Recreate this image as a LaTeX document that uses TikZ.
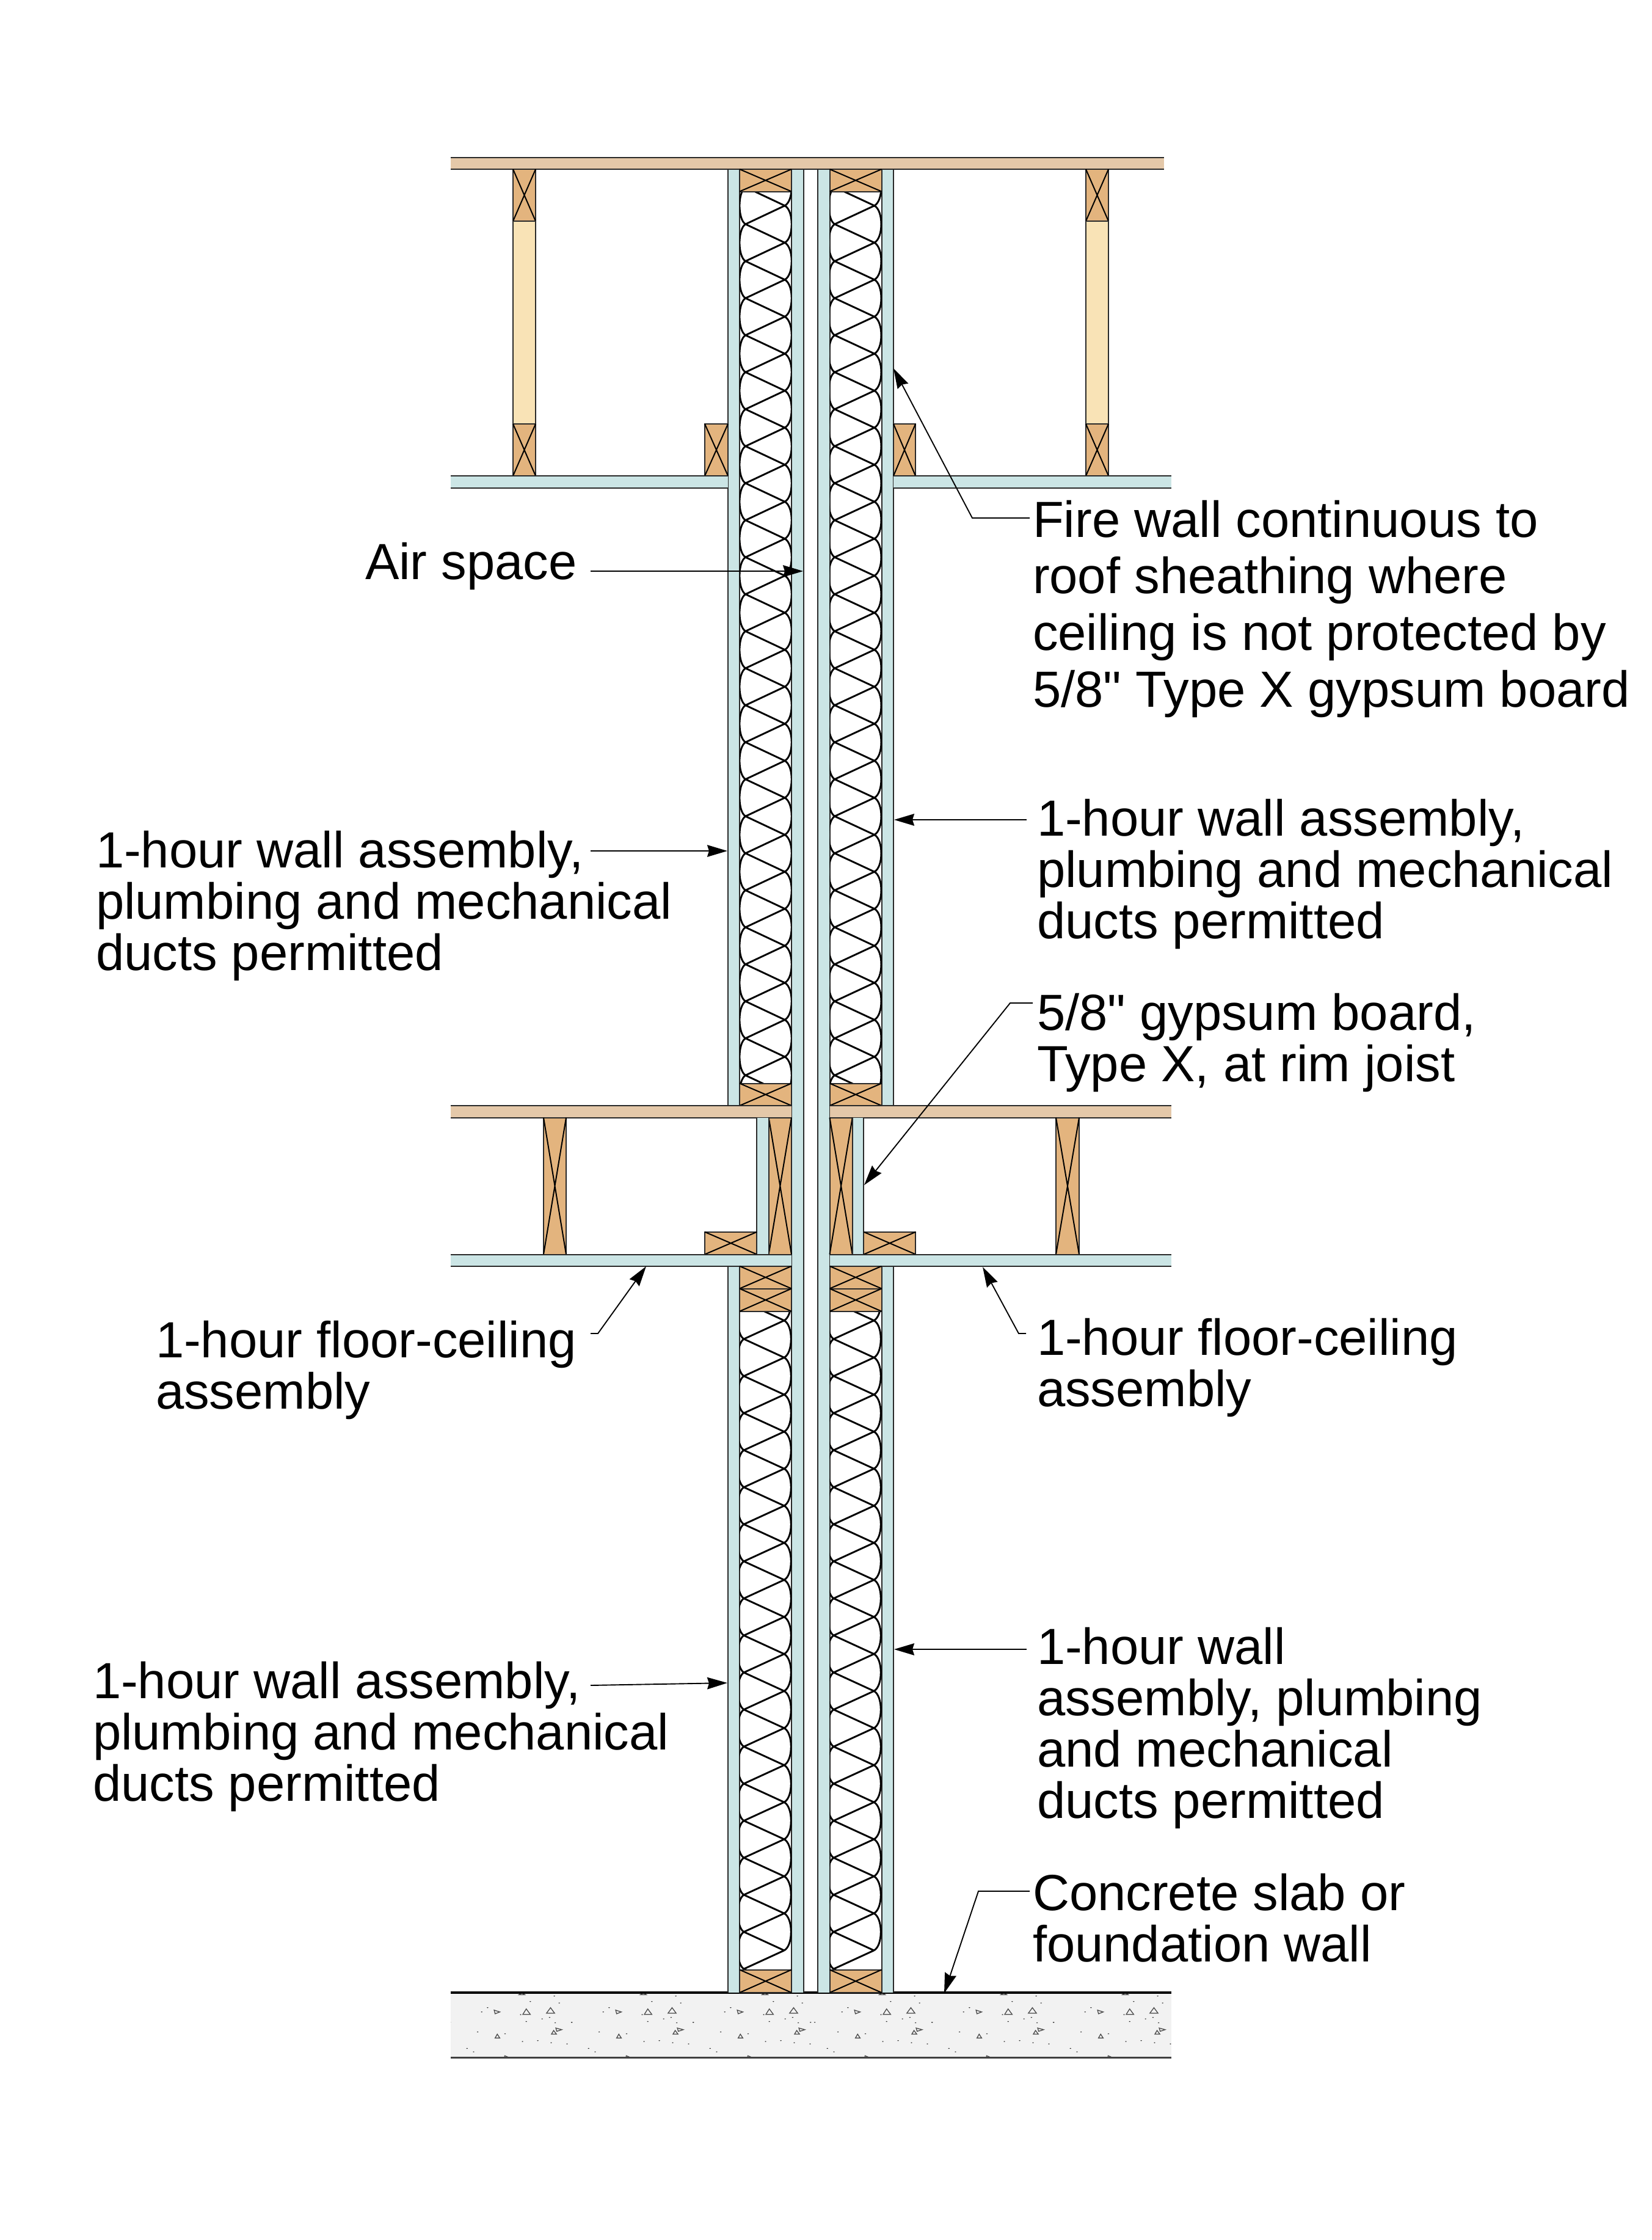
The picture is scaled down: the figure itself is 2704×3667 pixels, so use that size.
\documentclass[tikz,border=0pt]{standalone}
\usepackage{fontspec}
\newfontfamily\labelfont{Liberation Sans}
\usetikzlibrary{arrows.meta}
\definecolor{sheathing}{HTML}{E4C8A9}
\definecolor{plate}{HTML}{E3B47E}
\definecolor{lightstud}{HTML}{F9E3B6}
\definecolor{gypsum}{HTML}{CBE5E5}
\definecolor{slab}{HTML}{F2F2F2}
\definecolor{edge}{HTML}{2A2A2A}
\tikzset{
  edgeline/.style={draw=edge,line width=2pt},
  xcross/.style={draw=black,line width=2pt},
  batt/.style={draw=black,line width=2.9pt,line join=round},
  leader/.style={draw=black,line width=1.9pt,-{Stealth[length=33pt,width=19.5pt,inset=3pt]}},
  label/.style={inner sep=0pt,outer sep=0pt,anchor=base west,align=left,text=black},
  note/.style={label,font=\labelfont\fontsize{83.2}{84}\selectfont},
  wide/.style={label,font=\labelfont\fontsize{83.2}{92.6}\selectfont},
  aggregate/.style={draw=black!70,line width=1.3pt},
  fleck/.style={fill=black!85}
}
% horizontal board: edges on top and bottom only
\newcommand{\hboard}[5]{\fill[#5] (#1,#2) rectangle (#3,#4);
  \draw[edgeline] (#1,#2) -- (#3,#2) (#1,#4) -- (#3,#4);}
% vertical board: edges on the sides only
\newcommand{\vboard}[5]{\fill[#5] (#1,#2) rectangle (#3,#4);
  \draw[edgeline] (#1,#2) -- (#1,#4) (#3,#2) -- (#3,#4);}
% lumber with a cross
\newcommand{\xlumber}[4]{\fill[plate] (#1,#2) rectangle (#3,#4);
  \draw[edgeline] (#1,#2) rectangle (#3,#4);
  \draw[xcross] (#1,#2) -- (#3,#4) (#1,#4) -- (#3,#2);}
% batt: xL xR clipX1 clipX2 clipY1 clipY2 y0 period nLines
\newcommand{\battwall}[9]{\begin{scope}
  \clip (#3,#5) rectangle (#4,#6);
  \pgfmathsetmacro{\bP}{#8}
  \foreach \k in {-1,...,#9}{
    \pgfmathsetmacro{\yR}{#7+\k*\bP}
    \pgfmathsetmacro{\yL}{\yR+0.5*\bP}
    \pgfmathsetmacro{\yRn}{\yR+\bP}
    \pgfmathsetmacro{\yLn}{\yL+\bP}
    \draw[batt] (#2,\yR) -- (#1,\yL) -- (#2,\yRn);
    \ifnum\k<#9
    \draw[batt] (#2,\yR) .. controls (#2+15,\yR+0.13*\bP) and (#2+15,\yRn-0.13*\bP) .. (#2,\yRn);
    \draw[batt] (#1,\yL) .. controls (#1-13,\yL+0.13*\bP) and (#1-13,\yLn-0.13*\bP) .. (#1,\yLn);
    \fi
  }
\end{scope}}
\newcommand{\concretetile}{%
  \foreach \p/\q in {407/503,330/530,423/537,193/560,174/581,299/594,392/608,368/615,317/628,410/634,463/632,73/632,161/679,249/688,305/726,354/722,397/732,448/738,127/760,148/777}{
    \fill[fleck] (\p,\q) circle[x radius=2.6,y radius=2.2];
  }
  \draw[aggregate] (306,593)--(330,593)--(317,566)--cycle;
  \draw[aggregate] (382,587)--(408,587)--(395,560)--cycle;
  \draw[aggregate] (214,572)--(232,581)--(217,590)--cycle;
  \draw[aggregate] (398,690)--(414,690)--(405,672)--cycle;
  \draw[aggregate] (412,660)--(431,668)--(415,676)--cycle;
  \draw[aggregate] (217,709)--(232,709)--(224,690)--cycle;
  \draw[aggregate] (294,496)--(312,496)--(303,486)--cycle;
  \draw[aggregate] (247,805)--(259,803)--(248,796)--cycle;
}
\begin{document}
\begin{tikzpicture}[x=1pt,y=-1pt]
\useasboundingbox[fill=white] (0,0) rectangle (2704,3667);

% --- concrete slab
\fill[slab] (738,3262) rectangle (1918,3368);
\begin{scope}
  \clip (738,3262) rectangle (1918,3368);
  \foreach \dx in {700,899,1098,1290,1489,1688}{
    \begin{scope}[shift={(\dx,3100)},x=0.51pt,y=-0.3333pt]
      \concretetile
    \end{scope}
  }
\end{scope}
\draw[draw=black,line width=4pt] (738,3262) -- (1918,3262);
\draw[draw=black!75,line width=3pt] (738,3368) -- (1918,3368);

% --- gypsum: party (inner) layers, full height
\vboard{1296}{277}{1316}{3262}{gypsum}
\vboard{1339}{277}{1358.5}{3262}{gypsum}
% --- outer gypsum layers
\vboard{1192}{277}{1211}{1810}{gypsum}
\vboard{1443.5}{277}{1463}{1810}{gypsum}
\vboard{1192}{2073}{1211}{3262}{gypsum}
\vboard{1443.5}{2073}{1463}{3262}{gypsum}

% --- insulation
\battwall{1220.7}{1285}{1211}{1296}{313}{1773}{336.7}{60.58}{24}
\battwall{1366.7}{1431.7}{1358.5}{1443.5}{313}{1773}{336.7}{60.58}{24}
\battwall{1218}{1284}{1211}{1296}{2147}{3224}{2161.7}{60.66}{17}
\battwall{1365}{1431}{1358.5}{1443.5}{2147}{3224}{2161.7}{60.66}{17}

% --- roof sheathing
\hboard{738}{258}{1906}{277}{sheathing}
% --- top plates
\xlumber{1211}{277}{1296}{313.5}
\xlumber{1358.5}{277}{1443.5}{313.5}
% --- bottom plates at slab
\xlumber{1211}{3224.5}{1296}{3262}
\xlumber{1358.5}{3224.5}{1443.5}{3262}

% --- attic framing (left and right studs)
\xlumber{840}{277}{877}{362}
\fill[lightstud] (840,362) rectangle (877,694);
\draw[edgeline] (840,362) rectangle (877,694);
\xlumber{840}{694}{877}{779}
\xlumber{1778}{277}{1815}{362}
\fill[lightstud] (1778,362) rectangle (1815,694);
\draw[edgeline] (1778,362) rectangle (1815,694);
\xlumber{1778}{694}{1815}{779}
\xlumber{1154}{694}{1192}{779}
\xlumber{1463}{694}{1499}{779}
% --- upper ceiling
\hboard{738}{779}{1192}{798.5}{gypsum}
\hboard{1463}{779}{1918}{798.5}{gypsum}

% --- floor level
\xlumber{1211}{1773.5}{1296}{1810}
\xlumber{1358.5}{1773.5}{1443.5}{1810}
\hboard{738}{1810}{1296}{1829.5}{sheathing}
\hboard{1358.5}{1810}{1918}{1829.5}{sheathing}
\xlumber{890}{1829.5}{927}{2053.5}
\xlumber{1729}{1829.5}{1767}{2053.5}
\xlumber{1258.7}{1829.5}{1296}{2053.5}
\xlumber{1358.5}{1829.5}{1395.7}{2053.5}
\vboard{1239.3}{1829.5}{1258.7}{2053.5}{gypsum}
\vboard{1395.7}{1829.5}{1414.3}{2053.5}{gypsum}
\xlumber{1154}{2016.7}{1239.3}{2053.5}
\xlumber{1414.3}{2016.7}{1499.3}{2053.5}
\hboard{738}{2053.5}{1296}{2072.7}{gypsum}
\hboard{1358.5}{2053.5}{1918}{2072.7}{gypsum}
\xlumber{1211}{2072.7}{1296}{2109.5}
\xlumber{1211}{2109.5}{1296}{2146.7}
\xlumber{1358.5}{2072.7}{1443.5}{2109.5}
\xlumber{1358.5}{2109.5}{1443.5}{2146.7}

% --- labels
\node[wide] (firenote) at (1691,1157) {Fire wall continuous to\\roof sheathing where\\ceiling is not protected by\\5/8" Type X gypsum board};
\node[note] (airnote) at (598,948.5) {Air space};
\node[note] (wallL) at (157,1588) {1-hour wall assembly,\\plumbing and mechanical\\ducts permitted};
\node[note] (wallR) at (1698,1536) {1-hour wall assembly,\\plumbing and mechanical\\ducts permitted};
\node[note] (gypnote) at (1698,1770) {5/8" gypsum board,\\Type X, at rim joist};
\node[note] (floorL) at (255,2306) {1-hour floor-ceiling\\assembly};
\node[note] (floorR) at (1698,2302) {1-hour floor-ceiling\\assembly};
\node[note] (lowerL) at (152,2948) {1-hour wall assembly,\\plumbing and mechanical\\ducts permitted};
\node[note] (lowerR) at (1698,2976) {1-hour wall\\assembly, plumbing\\and mechanical\\ducts permitted};
\node[note] (concnote) at (1691,3211) {Concrete slab or\\foundation wall};

% --- leader anchor points
\coordinate (fireS) at (1686,848); \coordinate (fireE) at (1592,848); \coordinate (fireT) at (1463,603);
\coordinate (airS) at (967,935); \coordinate (airT) at (1315,935);
\coordinate (wallLS) at (967,1393); \coordinate (wallLT) at (1191,1393);
\coordinate (wallRS) at (1681,1342); \coordinate (wallRT) at (1464,1342);
\coordinate (gypS) at (1691,1642); \coordinate (gypE) at (1654,1642); \coordinate (gypT) at (1415,1940);
\coordinate (floorLS) at (967,2183); \coordinate (floorLE) at (979,2183); \coordinate (floorLT) at (1058,2073);
\coordinate (floorRS) at (1680,2183); \coordinate (floorRE) at (1668,2183); \coordinate (floorRT) at (1609,2074);
\coordinate (lowerLS) at (967,2759); \coordinate (lowerLT) at (1191,2755);
\coordinate (lowerRS) at (1681,2700); \coordinate (lowerRT) at (1464,2700);
\coordinate (concS) at (1686,3096); \coordinate (concE) at (1602,3096); \coordinate (concT) at (1546,3263);

% --- leaders
\draw[leader] (fireS) -- (fireE) -- (fireT);
\draw[leader] (airS) -- (airT);
\draw[leader] (wallLS) -- (wallLT);
\draw[leader] (wallRS) -- (wallRT);
\draw[leader] (gypS) -- (gypE) -- (gypT);
\draw[leader] (floorLS) -- (floorLE) -- (floorLT);
\draw[leader] (floorRS) -- (floorRE) -- (floorRT);
\draw[leader] (lowerLS) -- (lowerLT);
\draw[leader] (lowerRS) -- (lowerRT);
\draw[leader] (concS) -- (concE) -- (concT);
\end{tikzpicture}
\end{document}
